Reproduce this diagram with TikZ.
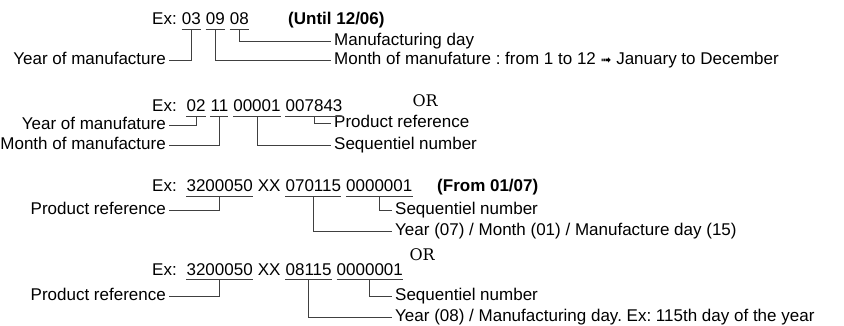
\documentclass[tikz,border=0pt]{standalone}
\usepackage{fontspec}
\setmainfont{Liberation Sans}
\newfontfamily\orfont{DejaVu Serif}
\newfontfamily\arrowfont{DejaVu Sans}
\usetikzlibrary{positioning}
\frenchspacing

\begin{document}
\begin{tikzpicture}[x=1pt, y=-1pt,
        every node/.style={font=\fontsize{17}{20}\selectfont},
        code/.style={inner xsep=0pt, inner ysep=4pt},
        lbl/.style={inner xsep=3pt, inner ysep=0pt, text height=12pt, text depth=3.5pt},
        lead/.style={line width=0.8pt, black!75},
        ornode/.style={font=\orfont\fontsize{16}{16}\selectfont, anchor=base west}]
    \useasboundingbox (0,0) rectangle (844,326);

        \node[code, anchor=base west] (ex1) at (152,25) {Ex:};
        \node[code, base right=4.7pt of ex1] (yy1) {03};
        \node[code, base right=4.7pt of yy1] (mm1) {09};
        \node[code, base right=4.7pt of mm1] (dd1) {08};
        \node[code, anchor=base west, font=\fontsize{17}{20}\selectfont\bfseries] (until) at (288,25) {(Until 12/06)};
        \node[lbl, anchor=west] (dd1l) at (331,41) {Manufacturing day};
        \node[lbl, anchor=east] (yy1l) at (169,60) {Year of manufacture};
        \node[lbl, anchor=west] (mm1l) at (331,60) {Month of manufature : from 1 to 12 {\arrowfont\fontsize{13}{13}\selectfont ➟} January to December};

        \draw[lead] (dd1.south) |- (dd1l.west)
            (yy1.south) |- (yy1l.east)
            (mm1.south) |- (mm1l.west);

        \node[code, anchor=base west] (ex2) at (152,112) {Ex:};
        \node[code, base right=9.4pt of ex2] (yy2) {02};
        \node[code, base right=4.7pt of yy2] (mm2) {11};
        \node[code, base right=4.7pt of mm2] (seq2) {00001};
        \node[code, base right=4.7pt of seq2] (ref2) {007843};
        \node[ornode] (or1) at (409,107) {OR};
        \node[lbl, anchor=east] (yy2l) at (169,125) {Year of manufature};
        \node[lbl, anchor=east] (mm2l) at (169,145) {Month of manufacture};
        \node[lbl, anchor=west] (ref2l) at (331,123) {Product reference};
        \node[lbl, anchor=west] (seq2l) at (331,145) {Sequentiel number};

        \draw[lead] (yy2.south) |- (yy2l.east)
            (mm2.south) |- (mm2l.east)
            (ref2.south) |- (ref2l.west)
            (seq2.south) |- (seq2l.west);

        \node[code, anchor=base west] (ex3) at (152,192) {Ex:};
        \node[code, base right=9.4pt of ex3] (ref3) {3200050};
        \node[code, base right=4.7pt of ref3] (xx3) {XX};
        \node[code, base right=4.7pt of xx3] (date3) {070115};
        \node[code, base right=4.7pt of date3] (seq3) {0000001};
        \node[code, anchor=base west, font=\fontsize{17}{20}\selectfont\bfseries] (from) at (437,192) {(From 01/07)};
        \node[lbl, anchor=east] (ref3l) at (169,210) {Product reference};
        \node[lbl, anchor=west] (seq3l) at (392,210) {Sequentiel number};
        \node[lbl, anchor=west] (date3l) at (392,231) {Year (07) / Month (01) / Manufacture day (15)};

        \draw[lead] (ref3.south) |- (ref3l.east)
            (seq3.south) |- (seq3l.west)
            (date3.south) |- (date3l.west);

        \node[ornode] (or2) at (406,260) {OR};

        \node[code, anchor=base west] (ex4) at (152,275) {Ex:};
        \node[code, base right=9.4pt of ex4] (ref4) {3200050};
        \node[code, base right=4.7pt of ref4] (xx4) {XX};
        \node[code, base right=4.7pt of xx4] (date4) {08115};
        \node[code, base right=4.7pt of date4] (seq4) {0000001};
        \node[lbl, anchor=east] (ref4l) at (169,296) {Product reference};
        \node[lbl, anchor=west] (seq4l) at (392,296) {Sequentiel number};
        \node[lbl, anchor=west] (date4l) at (392,317) {Year (08) / Manufacturing day. Ex: 115th day of the year};

        \draw[lead] (ref4.south) |- (ref4l.east)
            (seq4.south) |- (seq4l.west)
            (date4.south) |- (date4l.west);

        \foreach \c in {yy1, mm1, dd1, yy2, mm2, seq2, ref2, ref3, date3, seq3, ref4, date4, seq4}
            \draw[lead] (\c.south west) -- (\c.south east);
    \end{tikzpicture}
\end{document}
